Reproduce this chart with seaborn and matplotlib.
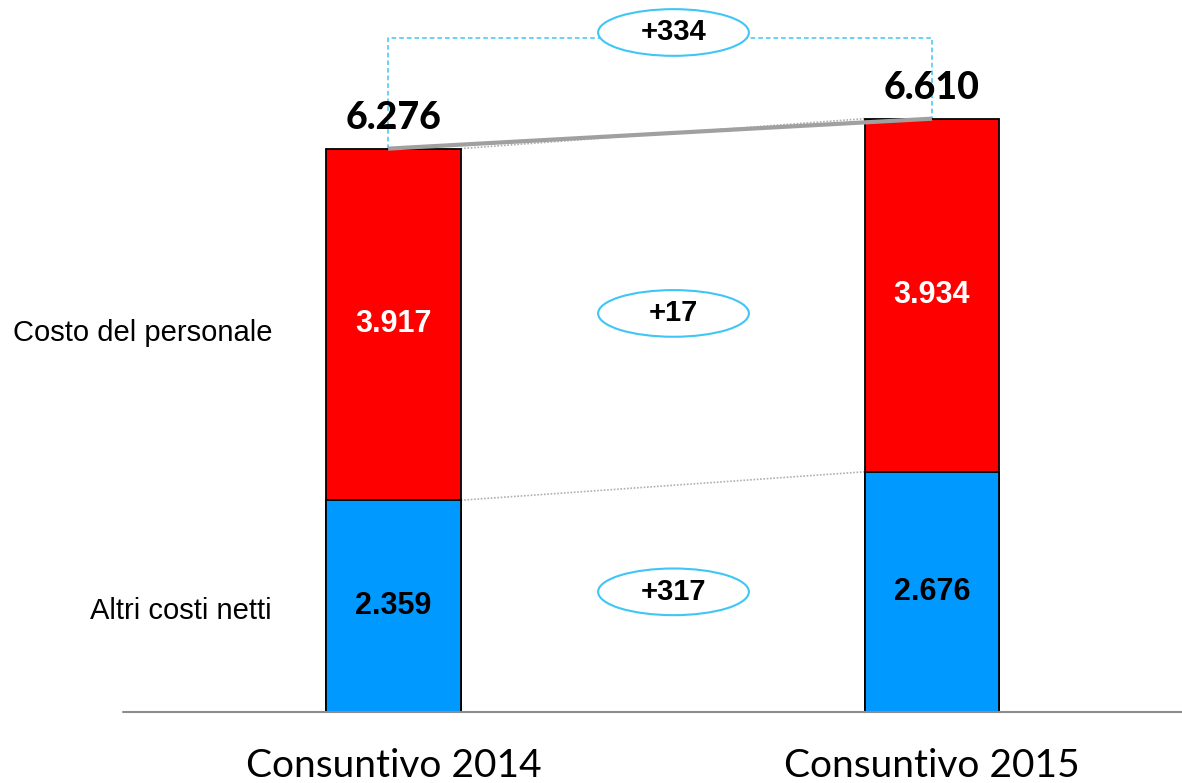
import numpy as np
import pandas as pd
import matplotlib
matplotlib.use("Agg")
import matplotlib.pyplot as plt
from matplotlib.patches import Ellipse
import seaborn as sns

anni = ["Consuntivo 2014", "Consuntivo 2015"]
altri_costi = [2359, 2676]
costo_personale = [3917, 3934]
totali = [6276, 6610]
righe = ["Altri costi netti", "Costo del personale"]
delta_altri = "+317"
delta_personale = "+17"
delta_totale = "+334"

ROSSO = "#FF0000"
BLU = "#0099FF"
CIANO = "#3FC6F5"

sns.set_style("white")
plt.rcParams["font.family"] = ["Liberation Sans", "DejaVu Sans"]
plt.rcParams["text.color"] = "black"
plt.rcParams["xtick.color"] = "black"

fig = plt.figure(figsize=(11.82, 7.83), dpi=100)
ax = fig.add_axes([123/1182, 71/783, 1059/1182, 712/783])

df = pd.DataFrame({"anno": anni, "altri": altri_costi, "personale": costo_personale, "totale": totali})

# stacked bars: total (red) behind, other costs (blue) on top
sns.barplot(data=df, x="anno", y="totale", color=ROSSO, saturation=1, width=0.25,
            edgecolor="black", linewidth=1.3, ax=ax, zorder=3)
sns.barplot(data=df, x="anno", y="altri", color=BLU, saturation=1, width=0.25,
            edgecolor="black", linewidth=1.3, ax=ax, zorder=4)

ax.set_xlim(-0.5023, 1.4643)
ax.set_ylim(0, 7932)
ax.set_xlabel("")
ax.set_ylabel("")
ax.set_yticks([])
sns.despine(ax=ax, left=True, bottom=True)
ax.axhline(0, color="#8C8C8C", lw=1.5, zorder=5, clip_on=False)
ax.tick_params(axis="x", length=0, pad=26, colors="black")
for lab in ax.get_xticklabels():
    lab.set_fontfamily("Lato")
    lab.set_fontsize(28)
    lab.set_color("black")

x = np.arange(len(anni))
hw = 0.125

# values inside bars
for i in x:
    ax.text(i, altri_costi[i] / 2, f"{altri_costi[i]:,}".replace(",", "."),
            ha="center", va="center", fontsize=22, fontweight="bold", color="black", zorder=6)
    ax.text(i, altri_costi[i] + costo_personale[i] / 2, f"{costo_personale[i]:,}".replace(",", "."),
            ha="center", va="center", fontsize=22, fontweight="bold", color="white", zorder=6)
    ax.annotate(f"{totali[i]:,}".replace(",", "."), (i, totali[i]), xytext=(0, 10),
                textcoords="offset points", ha="center", va="bottom", color="black",
                fontsize=27, fontweight="black", family="Lato", zorder=6)

# connecting lines between bars
ax.plot([hw, 1 - hw], [altri_costi[0], altri_costi[1]], ls=(0, (1, 1)), color="#B0B0B0", lw=1.2, zorder=2)
ax.plot([hw, 1 - hw], [totali[0], totali[1]], ls=(0, (1, 1)), color="#B0B0B0", lw=1.2, zorder=2)
ax.plot([-0.01, 1.0], [totali[0], totali[1]], color="#A0A0A0", lw=3, zorder=5, solid_capstyle="butt")

# dashed bracket for the total change
top = max(totali) + 900
ax.plot([-0.01, -0.01, 1.0, 1.0], [totali[0], top, top, totali[1]],
        ls=(0, (3, 2)), color=CIANO, lw=1.1, zorder=2)

def bolla(xc, yc, testo):
    ax.add_patch(Ellipse((xc, yc), 0.28, 520, facecolor="white", edgecolor=CIANO, lw=1.5, zorder=7))
    ax.text(xc, yc, testo, ha="center", va="center", fontsize=21, fontweight="bold",
            color="black", zorder=8)

mid = 0.52
bolla(mid, top + 60, delta_totale)
bolla(mid, (altri_costi[0] + costo_personale[0] / 2 + altri_costi[1] + costo_personale[1] / 2) / 2 - 40, delta_personale)
bolla(mid, (altri_costi[0] + altri_costi[1]) / 4 + 80, delta_altri)

# row labels on the left
ax.text(-0.2256, altri_costi[0] + costo_personale[0] / 2 - 90, righe[1], ha="right", va="center",
        fontsize=21, color="black")
ax.text(-0.2256, altri_costi[0] / 2 - 50, righe[0], ha="right", va="center", fontsize=21, color="black")

fig.savefig("out.png", dpi=100)
